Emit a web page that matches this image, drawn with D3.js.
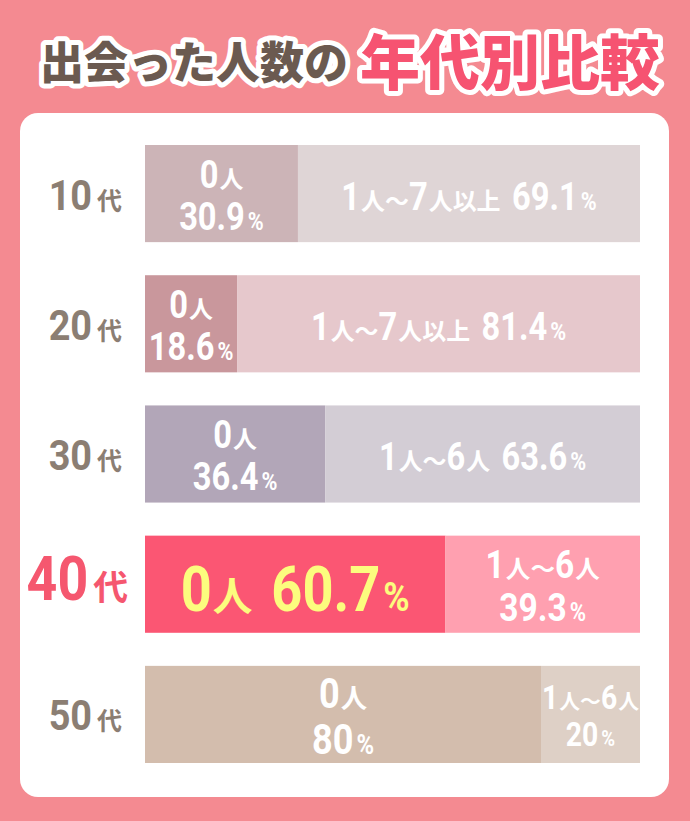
<!DOCTYPE html>
<html>
<head>
<meta charset="utf-8">
<script src="https://cdn.jsdelivr.net/npm/d3@7/dist/d3.min.js"></script>
<style>
  html, body { margin: 0; padding: 0; background: #F48A91; }
  svg { display: block; }
</style>
</head>
<body>
<svg id="chart" width="690" height="821"></svg>
<script>
// ---- data ----
const titleMain = "出会った人数の";
const titleAccent = "年代別比較";
const categories = ["10代", "20代", "30代", "40代", "50代"];
const zeroLabels = ["0人", "0人", "0人", "0人", "0人"];
const zeroValues = [30.9, 18.6, 36.4, 60.7, 80];
const otherLabels = ["1人～7人以上", "1人～7人以上", "1人～6人", "1人～6人", "1人～6人"];
const otherValues = [69.1, 81.4, 63.6, 39.3, 20];
const highlight = "40代";

// ---- styles ----
const darkColors  = ["#CCB4B7", "#C9979C", "#B2A6B8", "#FB5673", "#D3BDAD"];
const lightColors = ["#DFD5D6", "#E6C8CC", "#D3CDD5", "#FFA0B0", "#DED0C6"];
const zeroLayout  = ["two", "two", "two", "one", "two"];
const otherLayout = ["one", "one", "one", "two", "two"];
const zeroSize    = [38, 38, 38, 63, 42];
const otherSize   = [38, 38, 38, 39, 33];
const zeroTextColor = ["#fff", "#fff", "#fff", "#FCFC7E", "#fff"];

const NUM_FONT = "Roboto, 'DejaVu Sans', sans-serif";
const CJK_FONT = "'Noto Sans CJK JP', 'Noto Sans', sans-serif";
const NUM_SX = 0.86;   // horizontal squeeze for condensed digits

const svg = d3.select("#chart");

// background + panel
svg.append("rect").attr("width", 690).attr("height", 821).attr("fill", "#F48A91");
svg.append("rect").attr("x", 20).attr("y", 113).attr("width", 649).attr("height", 684)
  .attr("rx", 18).attr("fill", "#fff");

// title
const title = svg.append("text")
  .attr("x", 350).attr("y", 85).attr("text-anchor", "middle")
  .attr("font-family", CJK_FONT).attr("font-weight", 900)
  .attr("stroke", "#fff").attr("stroke-width", 10).attr("stroke-linejoin", "round")
  .attr("paint-order", "stroke");
title.append("tspan").text(titleMain).attr("font-size", 44).attr("fill", "#6B5A50").attr("dy", -6);
title.append("tspan").text(titleAccent).attr("font-size", 60).attr("fill", "#F65371").attr("dx", 12).attr("dy", 6);

// scales
const x = d3.scaleLinear().domain([0, 100]).range([145, 640]);
const y = d3.scaleBand().domain(categories).range([145, 763]).paddingInner(0.254).paddingOuter(0);

const rows = categories.map((c, i) => ({
  cat: c, i,
  zero: zeroValues[i], other: otherValues[i],
  zeroLabel: zeroLabels[i], otherLabel: otherLabels[i]
}));

const g = svg.append("g");

// bars
g.selectAll(".zero").data(rows).join("rect")
  .attr("x", x(0)).attr("y", d => y(d.cat))
  .attr("width", d => x(d.zero) - x(0)).attr("height", y.bandwidth())
  .attr("fill", d => darkColors[d.i]);
g.selectAll(".other").data(rows).join("rect")
  .attr("x", d => x(d.zero)).attr("y", d => y(d.cat))
  .attr("width", d => x(d.zero + d.other) - x(d.zero)).attr("height", y.bandwidth())
  .attr("fill", d => lightColors[d.i]);

// rich text helper: runs of digits / % / CJK / space laid out manually
function runs(str) {
  const out = [];
  for (const ch of str) {
    const t = /[0-9.]/.test(ch) ? "num" : (ch === "%" ? "pct" : (ch === " " ? "sp" : "cjk"));
    if (out.length && out[out.length - 1].t === t) out[out.length - 1].s += ch;
    else out.push({ t, s: ch });
  }
  return out;
}
function rich(parent, str, anchorX, baseline, size, color, opts = {}) {
  const sx = opts.sx || NUM_SX;
  const cjkScale = opts.cjk || 0.63;
  const pctScale = opts.pct || 0.66;
  const cjkGap = opts.cjkGap != null ? opts.cjkGap : 1;
  const align = opts.align || "middle";
  const grp = parent.append("g");
  const items = [];
  runs(str).forEach(r => {
    if (r.t === "sp") { items.push({ gap: size * 0.3 }); return; }
    const t = grp.append("text").text(r.s).attr("fill", color).attr("font-weight", "bold");
    let sc = 1, pre = 0;
    if (r.t === "num") { t.attr("font-family", NUM_FONT).attr("font-size", size); sc = sx; }
    else if (r.t === "pct") { t.attr("font-family", NUM_FONT).attr("font-size", size * pctScale); sc = sx; pre = 3; }
    else { t.attr("font-family", CJK_FONT).attr("font-size", size * cjkScale).attr("font-weight", 700); pre = cjkGap; }
    const w = t.node().getComputedTextLength() * sc;
    items.push({ t, w, sc, pre });
  });
  const total = d3.sum(items, it => (it.gap || 0) + (it.w || 0) + (it.pre || 0));
  let pos = align === "end" ? anchorX - total : anchorX - total / 2;
  items.forEach(it => {
    if (it.gap) { pos += it.gap; return; }
    pos += it.pre;
    it.t.attr("transform", `translate(${pos},${baseline}) scale(${it.sc},1)`);
    pos += it.w;
  });
  return grp;
}
function segLabel(label, value, x0, x1, cy, layout, size, color) {
  const cx = (x0 + x1) / 2;
  const valStr = String(value) + "%";
  if (layout === "one") {
    rich(g, label + " " + valStr, cx, cy + 0.42 * size, size, color);
  } else {
    const b2 = cy + 0.95 * size;
    rich(g, label, cx, b2 - 1.1 * size, size, color);
    rich(g, valStr, cx, b2, size, color);
  }
}

rows.forEach(d => {
  const cy = y(d.cat) + y.bandwidth() / 2;
  segLabel(d.zeroLabel, d.zero, x(0), x(d.zero), cy, zeroLayout[d.i], zeroSize[d.i], zeroTextColor[d.i]);
  segLabel(d.otherLabel, d.other, x(d.zero), x(d.zero + d.other), cy, otherLayout[d.i], otherSize[d.i], "#fff");
});

// category labels
rows.forEach(d => {
  const cy = y(d.cat) + y.bandwidth() / 2;
  const hi = d.cat === highlight;
  const size = hi ? 61 : 43;
  rich(g, d.cat, hi ? 128 : 122, cy + 16, size, hi ? "#F5576F" : "#8B7E73",
       { sx: 0.88, cjk: hi ? 0.57 : 0.58, cjkGap: 5, align: "end" });
});
</script>
</body>
</html>
